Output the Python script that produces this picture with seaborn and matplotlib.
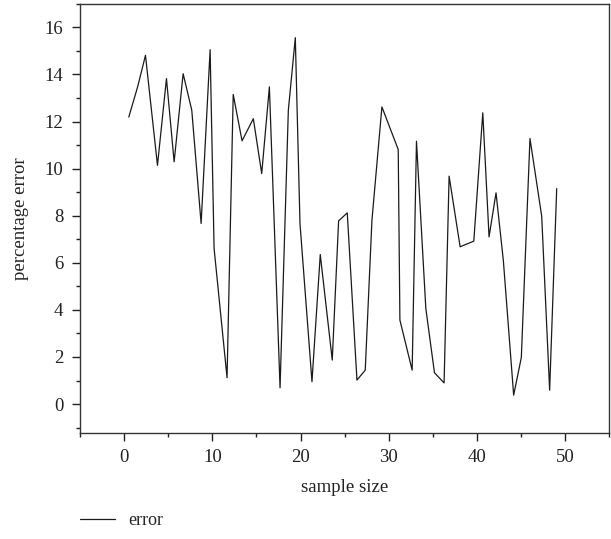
import matplotlib
matplotlib.use("Agg")
import matplotlib.pyplot as plt
import pandas as pd
import seaborn as sns
from matplotlib.ticker import MultipleLocator

# values
sample_size = [0.53, 1.55, 2.42, 3.78, 4.8, 5.67, 6.69, 7.67, 8.73, 9.75,
               10.2, 11.67, 12.37, 13.37, 14.65, 15.6, 16.47, 17.68, 18.62, 19.41,
               19.94, 21.3, 22.24, 23.6, 24.32, 25.3, 26.4, 27.34, 28.1, 29.23,
               31.08, 31.27, 32.66, 33.15, 34.21, 35.19, 36.28, 36.85, 38.1, 39.65,
               40.67, 41.38, 42.17, 43.0, 44.17, 45.04, 46.02, 47.35, 48.25, 49.05]
error = [12.19, 13.5, 14.81, 10.14, 13.82, 10.29, 14.03, 12.48, 7.67, 15.05,
         6.61, 1.12, 13.15, 11.18, 12.12, 9.79, 13.47, 0.69, 12.48, 15.56,
         7.67, 0.95, 6.35, 1.87, 7.78, 8.12, 1.02, 1.44, 7.81, 12.62,
         10.81, 3.57, 1.44, 11.16, 4.06, 1.33, 0.9, 9.68, 6.68, 6.92,
         12.37, 7.1, 8.97, 6.1, 0.38, 1.98, 11.28, 7.98, 0.59, 9.15]
x_ticks = [0, 10, 20, 30, 40, 50]
y_ticks = [0, 2, 4, 6, 8, 10, 12, 14, 16]

df = pd.DataFrame({"sample size": sample_size, "percentage error": error})

sns.set_style("ticks")
plt.rcParams['font.family'] = ['Liberation Serif', 'DejaVu Serif']

fig = plt.figure(figsize=(6.11, 5.39), dpi=100)
ax = fig.add_axes([0.131, 0.197, 0.866, 0.796])

sns.lineplot(data=df, x="sample size", y="percentage error", ax=ax,
             color="#1a1a1a", linewidth=0.9, label="error", sort=False)

ax.set_xlim(-5, 55)
ax.set_ylim(-1.22, 17.0)
ax.set_xticks(x_ticks)
ax.set_yticks(y_ticks)
ax.xaxis.set_minor_locator(MultipleLocator(5))
ax.yaxis.set_minor_locator(MultipleLocator(1))
ax.tick_params(which="major", direction="out", length=6, width=1, labelsize=13.5,
               colors="#222222", pad=6)
ax.tick_params(which="minor", direction="out", length=3, width=1, colors="#222222")
for side in ["top", "right", "left", "bottom"]:
    ax.spines[side].set_visible(True)
    ax.spines[side].set_linewidth(1.0)
    ax.spines[side].set_color("#333333")

ax.set_xlabel("sample size", fontsize=13.5, color="#222222", labelpad=9)
ax.set_ylabel("percentage error", fontsize=13.5, color="#222222", labelpad=11)

ax.legend(loc="upper left", bbox_to_anchor=(0.0, -0.185), frameon=False,
          fontsize=13, handlelength=1.95, handletextpad=0.7, borderpad=0,
          borderaxespad=0)

fig.savefig("out.png", dpi=100)
